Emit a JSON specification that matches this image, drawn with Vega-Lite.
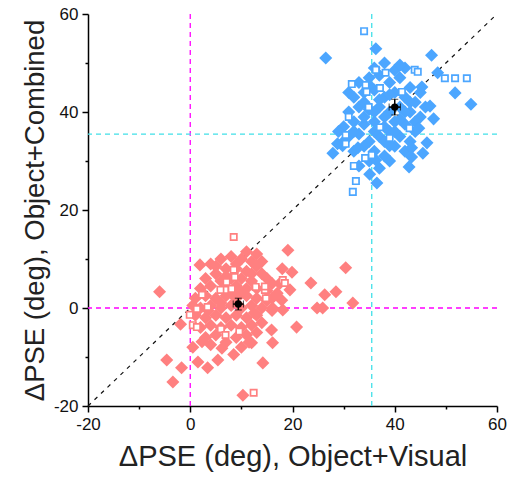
{
  "$schema": "https://vega.github.io/schema/vega-lite/v6.json",
  "autosize": {"type": "none"},
  "width": 409,
  "height": 392,
  "padding": {"left": 88, "top": 14, "right": 16, "bottom": 72},
  "background": "white",
  "config": {
    "view": {"stroke": null},
    "font": "Liberation Sans",
    "axis": {
      "domainColor": "#000000", "domainWidth": 1.5, "tickColor": "#000000", "tickWidth": 1.5,
      "grid": false, "labelFont": "Liberation Sans", "labelFontSize": 17, "labelColor": "#111111",
      "titleFont": "Liberation Sans", "titleFontWeight": "normal", "titleColor": "#222222"
    }
  },
  "datasets": {
    "pts": [
      {"x":4,"y":9,"g":"r","k":"d"},{"x":6,"y":10,"g":"r","k":"d"},{"x":8,"y":10.5,"g":"r","k":"d"},{"x":10,"y":10,"g":"r","k":"d"},{"x":12,"y":9.5,"g":"r","k":"d"},{"x":13,"y":8.5,"g":"r","k":"d"},{"x":5,"y":7,"g":"r","k":"d"},{"x":7,"y":8,"g":"r","k":"d"},{"x":9,"y":8,"g":"r","k":"d"},{"x":11,"y":7.5,"g":"r","k":"d"},{"x":14,"y":7,"g":"r","k":"d"},{"x":15,"y":6,"g":"r","k":"d"},{"x":3,"y":6,"g":"r","k":"d"},{"x":6,"y":5.5,"g":"r","k":"d"},{"x":8,"y":6,"g":"r","k":"d"},{"x":10,"y":6,"g":"r","k":"d"},{"x":12,"y":5.5,"g":"r","k":"d"},{"x":16,"y":5,"g":"r","k":"d"},{"x":2,"y":4,"g":"r","k":"d"},{"x":4,"y":4.5,"g":"r","k":"d"},{"x":7,"y":4,"g":"r","k":"d"},{"x":9,"y":4.5,"g":"r","k":"d"},{"x":11,"y":4,"g":"r","k":"d"},{"x":13,"y":4,"g":"r","k":"d"},{"x":15,"y":3.5,"g":"r","k":"d"},{"x":17,"y":3,"g":"r","k":"d"},{"x":1,"y":2,"g":"r","k":"d"},{"x":3,"y":2.5,"g":"r","k":"d"},{"x":5,"y":2,"g":"r","k":"d"},{"x":7,"y":2.5,"g":"r","k":"d"},{"x":9,"y":2,"g":"r","k":"d"},{"x":11,"y":2.5,"g":"r","k":"d"},{"x":13,"y":2,"g":"r","k":"d"},{"x":15,"y":1.5,"g":"r","k":"d"},{"x":2,"y":0,"g":"r","k":"d"},{"x":4,"y":0.5,"g":"r","k":"d"},{"x":6,"y":0,"g":"r","k":"d"},{"x":8,"y":0.5,"g":"r","k":"d"},{"x":10,"y":0,"g":"r","k":"d"},{"x":12,"y":0.5,"g":"r","k":"d"},{"x":14,"y":0,"g":"r","k":"d"},{"x":16,"y":-0.5,"g":"r","k":"d"},{"x":1,"y":-1.5,"g":"r","k":"d"},{"x":3,"y":-2,"g":"r","k":"d"},{"x":5,"y":-1.5,"g":"r","k":"d"},{"x":7,"y":-2,"g":"r","k":"d"},{"x":9,"y":-1.5,"g":"r","k":"d"},{"x":11,"y":-2,"g":"r","k":"d"},{"x":13,"y":-1.5,"g":"r","k":"d"},{"x":2,"y":-4,"g":"r","k":"d"},{"x":4,"y":-3.5,"g":"r","k":"d"},{"x":6,"y":-4,"g":"r","k":"d"},{"x":8,"y":-3.5,"g":"r","k":"d"},{"x":10,"y":-4,"g":"r","k":"d"},{"x":12,"y":-3.5,"g":"r","k":"d"},{"x":14,"y":-3,"g":"r","k":"d"},{"x":3,"y":-6,"g":"r","k":"d"},{"x":5,"y":-5.5,"g":"r","k":"d"},{"x":9,"y":-6,"g":"r","k":"d"},{"x":11,"y":-5.5,"g":"r","k":"d"},{"x":13,"y":-5,"g":"r","k":"d"},{"x":7,"y":-7,"g":"r","k":"d"},{"x":10,"y":-8,"g":"r","k":"d"},{"x":4,"y":-7.5,"g":"r","k":"d"},{"x":6,"y":1,"g":"r","k":"d"},{"x":8,"y":3,"g":"r","k":"d"},{"x":10,"y":3,"g":"r","k":"d"},{"x":12,"y":7,"g":"r","k":"d"},{"x":9,"y":9,"g":"r","k":"d"},{"x":11,"y":11.5,"g":"r","k":"d"},{"x":7,"y":6.5,"g":"r","k":"d"},{"x":13,"y":11,"g":"r","k":"d"},{"x":14,"y":9.5,"g":"r","k":"d"},{"x":5,"y":8.5,"g":"r","k":"d"},{"x":3.5,"y":-0.5,"g":"r","k":"d"},{"x":16,"y":2,"g":"r","k":"d"},{"x":17.5,"y":5,"g":"r","k":"d"},{"x":18,"y":8,"g":"r","k":"d"},{"x":0.5,"y":0.5,"g":"r","k":"d"},{"x":12.5,"y":-1,"g":"r","k":"d"},{"x":8.5,"y":-9.5,"g":"r","k":"d"},{"x":11.5,"y":-7,"g":"r","k":"d"},
      {"x":1.9,"y":8.8,"g":"r","k":"d"},{"x":-6,"y":3.3,"g":"r","k":"d"},{"x":19.1,"y":11.8,"g":"r","k":"d"},{"x":30.4,"y":8.2,"g":"r","k":"d"},{"x":19.9,"y":7.3,"g":"r","k":"d"},{"x":23.6,"y":5.1,"g":"r","k":"d"},{"x":26.3,"y":2.7,"g":"r","k":"d"},{"x":28.5,"y":3.3,"g":"r","k":"d"},{"x":31.8,"y":1,"g":"r","k":"d"},{"x":24.8,"y":0,"g":"r","k":"d"},{"x":25.9,"y":0,"g":"r","k":"d"},{"x":19.5,"y":3.7,"g":"r","k":"d"},{"x":17.9,"y":1.6,"g":"r","k":"d"},{"x":16.1,"y":0,"g":"r","k":"d"},{"x":18.1,"y":-0.4,"g":"r","k":"d"},{"x":20.8,"y":-3.9,"g":"r","k":"d"},{"x":-1.9,"y":-3.3,"g":"r","k":"d"},{"x":-4.6,"y":-10.6,"g":"r","k":"d"},{"x":-1.7,"y":-12.2,"g":"r","k":"d"},{"x":-3.4,"y":-15.1,"g":"r","k":"d"},{"x":1.5,"y":-11,"g":"r","k":"d"},{"x":3.4,"y":-12.2,"g":"r","k":"d"},{"x":5.4,"y":-10.6,"g":"r","k":"d"},{"x":6.2,"y":-8.2,"g":"r","k":"d"},{"x":0.5,"y":-8,"g":"r","k":"d"},{"x":2.3,"y":-6.9,"g":"r","k":"d"},{"x":12,"y":-7.1,"g":"r","k":"d"},{"x":14.2,"y":-11.2,"g":"r","k":"d"},{"x":16.1,"y":-7.1,"g":"r","k":"d"},{"x":15.9,"y":-4.5,"g":"r","k":"d"},{"x":10.3,"y":-17.8,"g":"r","k":"d"},
      {"x":8.5,"y":14.5,"g":"r","k":"s"},{"x":18.1,"y":5.7,"g":"r","k":"s"},{"x":14.6,"y":3.7,"g":"r","k":"s"},{"x":14.8,"y":2,"g":"r","k":"s"},{"x":12.4,"y":-17.3,"g":"r","k":"s"},{"x":-0.1,"y":-1.4,"g":"r","k":"s"},{"x":6,"y":-4.3,"g":"r","k":"s"},{"x":6.9,"y":-5.5,"g":"r","k":"s"},{"x":8.5,"y":7.8,"g":"r","k":"s"},{"x":8.7,"y":6.3,"g":"r","k":"s"},{"x":7.1,"y":5.3,"g":"r","k":"s"},{"x":8.1,"y":3.9,"g":"r","k":"s"},{"x":6.8,"y":3.7,"g":"r","k":"s"},{"x":5.9,"y":3.7,"g":"r","k":"s"},{"x":12.8,"y":4.3,"g":"r","k":"s"},{"x":14.6,"y":4.4,"g":"r","k":"s"},{"x":18.5,"y":5.1,"g":"r","k":"s"},{"x":2.3,"y":2.7,"g":"r","k":"s"},{"x":1.3,"y":-0.2,"g":"r","k":"s"},{"x":0.5,"y":-3.5,"g":"r","k":"s"},{"x":1.3,"y":-3.9,"g":"r","k":"s"},{"x":3.4,"y":0.2,"g":"r","k":"s"},{"x":9.6,"y":-4.8,"g":"r","k":"s"},
      {"x":33,"y":46,"g":"b","k":"d"},{"x":35,"y":47,"g":"b","k":"d"},{"x":37,"y":47.5,"g":"b","k":"d"},{"x":39,"y":46,"g":"b","k":"d"},{"x":41,"y":47,"g":"b","k":"d"},{"x":43,"y":45,"g":"b","k":"d"},{"x":32,"y":43,"g":"b","k":"d"},{"x":34,"y":44,"g":"b","k":"d"},{"x":36,"y":44.5,"g":"b","k":"d"},{"x":38,"y":43,"g":"b","k":"d"},{"x":40,"y":44,"g":"b","k":"d"},{"x":42,"y":43,"g":"b","k":"d"},{"x":44,"y":42,"g":"b","k":"d"},{"x":31,"y":40,"g":"b","k":"d"},{"x":33,"y":41,"g":"b","k":"d"},{"x":35,"y":40.5,"g":"b","k":"d"},{"x":37,"y":41,"g":"b","k":"d"},{"x":39,"y":40,"g":"b","k":"d"},{"x":41,"y":41,"g":"b","k":"d"},{"x":43,"y":40,"g":"b","k":"d"},{"x":45,"y":39,"g":"b","k":"d"},{"x":30,"y":37,"g":"b","k":"d"},{"x":32,"y":38,"g":"b","k":"d"},{"x":34,"y":37.5,"g":"b","k":"d"},{"x":36,"y":38,"g":"b","k":"d"},{"x":38,"y":37,"g":"b","k":"d"},{"x":40,"y":38,"g":"b","k":"d"},{"x":42,"y":37.5,"g":"b","k":"d"},{"x":44,"y":38,"g":"b","k":"d"},{"x":31,"y":35,"g":"b","k":"d"},{"x":33,"y":35.5,"g":"b","k":"d"},{"x":35,"y":34,"g":"b","k":"d"},{"x":37,"y":35,"g":"b","k":"d"},{"x":39,"y":36,"g":"b","k":"d"},{"x":41,"y":35,"g":"b","k":"d"},{"x":43,"y":34,"g":"b","k":"d"},{"x":32,"y":32,"g":"b","k":"d"},{"x":34,"y":33,"g":"b","k":"d"},{"x":36,"y":32,"g":"b","k":"d"},{"x":38,"y":31,"g":"b","k":"d"},{"x":40,"y":33,"g":"b","k":"d"},{"x":33,"y":29,"g":"b","k":"d"},{"x":35,"y":30,"g":"b","k":"d"},{"x":37,"y":28.5,"g":"b","k":"d"},{"x":39,"y":30,"g":"b","k":"d"},{"x":36,"y":49,"g":"b","k":"d"},{"x":38,"y":50,"g":"b","k":"d"},{"x":40,"y":48.5,"g":"b","k":"d"},{"x":42,"y":49,"g":"b","k":"d"},{"x":34,"y":42,"g":"b","k":"d"},{"x":36,"y":36,"g":"b","k":"d"},{"x":38,"y":39,"g":"b","k":"d"},{"x":40,"y":36,"g":"b","k":"d"},{"x":42,"y":40,"g":"b","k":"d"},{"x":44,"y":36,"g":"b","k":"d"},{"x":46,"y":41,"g":"b","k":"d"},{"x":30,"y":34,"g":"b","k":"d"},{"x":29,"y":36,"g":"b","k":"d"},{"x":31,"y":44,"g":"b","k":"d"},{"x":35,"y":45.5,"g":"b","k":"d"},{"x":37,"y":42.5,"g":"b","k":"d"},{"x":39,"y":43.5,"g":"b","k":"d"},{"x":41,"y":38.5,"g":"b","k":"d"},{"x":43,"y":42,"g":"b","k":"d"},{"x":45,"y":44,"g":"b","k":"d"},{"x":36,"y":40,"g":"b","k":"d"},{"x":38,"y":34,"g":"b","k":"d"},{"x":42,"y":32,"g":"b","k":"d"},{"x":32,"y":36,"g":"b","k":"d"},{"x":34,"y":39,"g":"b","k":"d"},
      {"x":26.5,"y":51,"g":"b","k":"d"},{"x":36.3,"y":52.9,"g":"b","k":"d"},{"x":47.2,"y":51.6,"g":"b","k":"d"},{"x":41,"y":49.6,"g":"b","k":"d"},{"x":48.4,"y":48,"g":"b","k":"d"},{"x":51.8,"y":43.9,"g":"b","k":"d"},{"x":54.9,"y":41.6,"g":"b","k":"d"},{"x":46.9,"y":41.2,"g":"b","k":"d"},{"x":47.6,"y":38.6,"g":"b","k":"d"},{"x":45.3,"y":45.1,"g":"b","k":"d"},{"x":44.7,"y":36.7,"g":"b","k":"d"},{"x":46.3,"y":33.7,"g":"b","k":"d"},{"x":45.5,"y":31.6,"g":"b","k":"d"},{"x":43.3,"y":32.7,"g":"b","k":"d"},{"x":43.3,"y":30.8,"g":"b","k":"d"},{"x":42.8,"y":28.8,"g":"b","k":"d"},{"x":36.5,"y":25.5,"g":"b","k":"d"},{"x":35.1,"y":27.3,"g":"b","k":"d"},{"x":36.3,"y":30.2,"g":"b","k":"d"},{"x":27.9,"y":31.6,"g":"b","k":"d"},{"x":29.8,"y":33.1,"g":"b","k":"d"},{"x":28.8,"y":33.5,"g":"b","k":"d"},{"x":32.8,"y":32.7,"g":"b","k":"d"},{"x":39,"y":33.1,"g":"b","k":"d"},
      {"x":34,"y":56.5,"g":"b","k":"s"},{"x":31.6,"y":45.7,"g":"b","k":"s"},{"x":31,"y":39,"g":"b","k":"s"},{"x":36.3,"y":48.6,"g":"b","k":"s"},{"x":38.2,"y":48,"g":"b","k":"s"},{"x":43.9,"y":48.6,"g":"b","k":"s"},{"x":44.5,"y":48.2,"g":"b","k":"s"},{"x":49.8,"y":46.9,"g":"b","k":"s"},{"x":51.8,"y":46.9,"g":"b","k":"s"},{"x":54.1,"y":46.9,"g":"b","k":"s"},{"x":30.4,"y":35.3,"g":"b","k":"s"},{"x":30.4,"y":33.5,"g":"b","k":"s"},{"x":34.3,"y":45.5,"g":"b","k":"s"},{"x":34.5,"y":44.1,"g":"b","k":"s"},{"x":37.1,"y":44.9,"g":"b","k":"s"},{"x":35.5,"y":31.2,"g":"b","k":"s"},{"x":34.2,"y":30.6,"g":"b","k":"s"},{"x":32,"y":29,"g":"b","k":"s"},{"x":32.4,"y":25.9,"g":"b","k":"s"},{"x":31.8,"y":23.7,"g":"b","k":"s"},{"x":39,"y":34.7,"g":"b","k":"s"},{"x":42.9,"y":36.7,"g":"b","k":"s"},{"x":34.9,"y":41,"g":"b","k":"s"},{"x":37.1,"y":36.9,"g":"b","k":"s"},{"x":41.4,"y":44.1,"g":"b","k":"s"}
    ],
    "means": [
      {"mx":9.4,"my":0.8,"xlo":8.4,"xhi":10.4,"ylo":-0.4,"yhi":2.0},
      {"mx":40.0,"my":41.0,"xlo":38.9,"xhi":41.1,"ylo":39.4,"yhi":42.6}
    ],
    "vl": [{"v":0,"c":"m"},{"v":35.5,"c":"c"}],
    "diag": [{"x":-20,"y":-20,"x2":60,"y2":60}]
  },
  "layer": [
    {
      "data": {"name": "vl"},
      "mark": {"type": "rule", "strokeDash": [5, 4], "strokeWidth": 1.3},
      "encoding": {
        "x": {"field": "v", "type": "quantitative", "title": "ΔPSE (deg), Object+Visual", "scale": {"domain": [-20, 60], "nice": false, "zero": false},
          "axis": {"values": [-20,-10,0,10,20,30,40,50,60], "labelExpr": "datum.value % 20 === 0 ? '' + datum.value : ''",
            "tickSize": {"condition": {"test": "datum.value % 20 === 0", "value": 6}, "value": 3},
            "labelPadding": 4, "titleFontSize": 29, "titlePadding": 10, "labelFlush": false, "labelOverlap": false}},
        "color": {"field": "c", "type": "nominal", "scale": {"domain": ["m", "c", "r", "b"], "range": ["#ff00ff", "#40e0e8", "#ff8080", "#4ca6ff"]}, "legend": null}
      }
    },
    {
      "data": {"name": "vl"},
      "mark": {"type": "rule", "strokeDash": [5, 4], "strokeWidth": 1.3},
      "encoding": {
        "y": {"field": "v", "type": "quantitative", "title": "ΔPSE (deg), Object+Combined", "scale": {"domain": [-20, 60], "nice": false, "zero": false},
          "axis": {"values": [-20,-10,0,10,20,30,40,50,60], "labelExpr": "datum.value % 20 === 0 ? '' + datum.value : ''",
            "tickSize": {"condition": {"test": "datum.value % 20 === 0", "value": 6}, "value": 3},
            "labelPadding": 4, "titleFontSize": 27.5, "titlePadding": 4, "labelFlush": false, "labelOverlap": false}},
        "color": {"field": "c", "type": "nominal", "legend": null}
      }
    },
    {
      "data": {"name": "diag"},
      "mark": {"type": "rule", "strokeDash": [4, 5], "strokeWidth": 1.2, "color": "#111111"},
      "encoding": {
        "x": {"field": "x", "type": "quantitative"},
        "y": {"field": "y", "type": "quantitative"},
        "x2": {"field": "x2"},
        "y2": {"field": "y2"}
      }
    },
    {
      "data": {"name": "pts"},
      "transform": [{"filter": "datum.k === 'd'"}],
      "mark": {"type": "point", "shape": "diamond", "filled": true, "opacity": 1, "size": 170},
      "encoding": {
        "x": {"field": "x", "type": "quantitative"},
        "y": {"field": "y", "type": "quantitative"},
        "color": {"field": "g", "type": "nominal", "legend": null}
      }
    },
    {
      "data": {"name": "pts"},
      "transform": [{"filter": "datum.k === 's'"}],
      "mark": {"type": "point", "shape": "square", "filled": false, "fill": "white", "fillOpacity": 1, "opacity": 1, "strokeWidth": 1.7, "size": 40},
      "encoding": {
        "x": {"field": "x", "type": "quantitative"},
        "y": {"field": "y", "type": "quantitative"},
        "stroke": {"field": "g", "type": "nominal", "scale": {"domain": ["r", "b"], "range": ["#ff8080", "#4ca6ff"]}, "legend": null}
      }
    },
    {
      "data": {"name": "means"},
      "mark": {"type": "errorbar", "ticks": {"size": 7, "color": "#000000", "strokeWidth": 1.5}, "rule": {"color": "#000000", "strokeWidth": 1.5}},
      "encoding": {
        "x": {"field": "xlo", "type": "quantitative", "title": "ΔPSE (deg), Object+Visual"},
        "x2": {"field": "xhi"},
        "y": {"field": "my", "type": "quantitative", "title": "ΔPSE (deg), Object+Combined"}
      }
    },
    {
      "data": {"name": "means"},
      "mark": {"type": "errorbar", "ticks": {"size": 7, "color": "#000000", "strokeWidth": 1.5}, "rule": {"color": "#000000", "strokeWidth": 1.5}},
      "encoding": {
        "y": {"field": "ylo", "type": "quantitative", "title": "ΔPSE (deg), Object+Combined"},
        "y2": {"field": "yhi"},
        "x": {"field": "mx", "type": "quantitative", "title": "ΔPSE (deg), Object+Visual"}
      }
    },
    {
      "data": {"name": "means"},
      "mark": {"type": "point", "shape": "circle", "filled": true, "color": "#000000", "opacity": 1, "size": 55},
      "encoding": {
        "x": {"field": "mx", "type": "quantitative"},
        "y": {"field": "my", "type": "quantitative"}
      }
    }
  ]
}
